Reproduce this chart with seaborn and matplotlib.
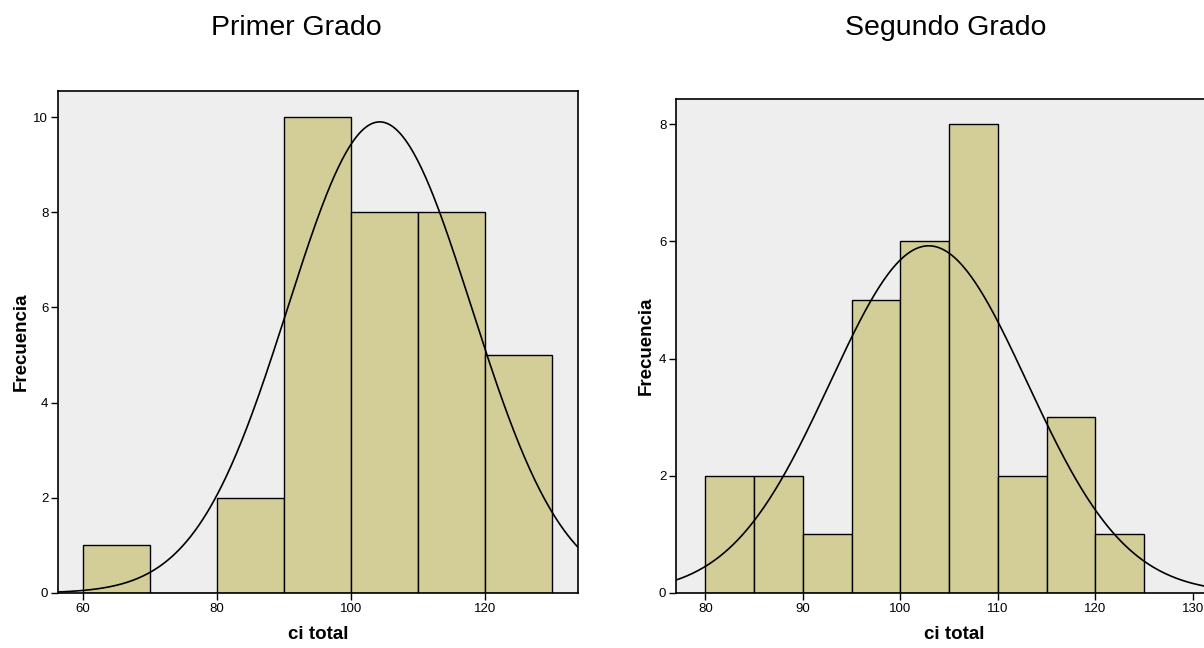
import numpy as np
import pandas as pd
import seaborn as sns
import matplotlib.pyplot as plt

# datos
bordes_1 = [60, 70, 80, 90, 100, 110, 120, 130]
frec_1 = [1, 0, 2, 10, 8, 8, 5]
media_1, sd_1 = 104.3, 13.7

bordes_2 = [80, 85, 90, 95, 100, 105, 110, 115, 120, 125]
frec_2 = [2, 2, 1, 5, 6, 8, 2, 3, 1]
media_2, sd_2 = 102.9, 10.1

sns.set_theme(style="white")
plt.rcParams['font.family'] = ['Liberation Sans', 'DejaVu Sans']
plt.rcParams['text.color'] = 'black'
plt.rcParams['axes.labelcolor'] = 'black'

COLOR_BARRA = "#D3CE98"
FONDO = "#EEEEEE"

fig = plt.figure(figsize=(12.04, 6.48), dpi=100)
ax1 = fig.add_axes([0.0482, 0.0849, 0.4319, 0.7747])
ax2 = fig.add_axes([0.5615, 0.0849, 0.4618, 0.7623])


def panel(ax, bordes, frec, media, sd, xlim, ylim, xticks, yticks):
    centros = [(a + b) / 2 for a, b in zip(bordes[:-1], bordes[1:])]
    df = pd.DataFrame({"ci": centros, "n": frec})
    sns.histplot(data=df, x="ci", weights="n", bins=list(bordes), ax=ax,
                 color=COLOR_BARRA, alpha=1, edgecolor="black", linewidth=1)
    # curva normal
    n = sum(frec)
    ancho = bordes[1] - bordes[0]
    xs = np.linspace(xlim[0], xlim[1], 400)
    ys = n * ancho * np.exp(-0.5 * ((xs - media) / sd) ** 2) / (sd * np.sqrt(2 * np.pi))
    ax.plot(xs, ys, color="black", linewidth=1.2)
    ax.set_facecolor(FONDO)
    ax.set_xlim(*xlim)
    ax.set_ylim(*ylim)
    ax.set_xticks(xticks)
    ax.set_yticks(yticks)
    ax.tick_params(axis="both", which="both", direction="out", length=5,
                   width=1, color="black", labelsize=9.5, left=True, bottom=True,
                   pad=2, labelcolor="black")
    for s in ax.spines.values():
        s.set_visible(True)
        s.set_color("black")
        s.set_linewidth(1.2)
    ax.set_xlabel("ci total", fontsize=13.5, fontweight="bold", labelpad=8)
    ax.set_ylabel("Frecuencia", fontsize=13.5, fontweight="bold", labelpad=3)


panel(ax1, bordes_1, frec_1, media_1, sd_1, (56.3, 133.9), (0, 10.55),
      [60, 80, 100, 120], [0, 2, 4, 6, 8, 10])
panel(ax2, bordes_2, frec_2, media_2, sd_2, (77.0, 134.0), (0, 8.43),
      [80, 90, 100, 110, 120, 130], [0, 2, 4, 6, 8])

fig.text(296 / 1204, 1 - 28 / 648, "Primer Grado", ha="center", va="center", fontsize=20.5)
fig.text(946 / 1204, 1 - 28 / 648, "Segundo Grado", ha="center", va="center", fontsize=20.5)

fig.savefig("out.png", dpi=100)
